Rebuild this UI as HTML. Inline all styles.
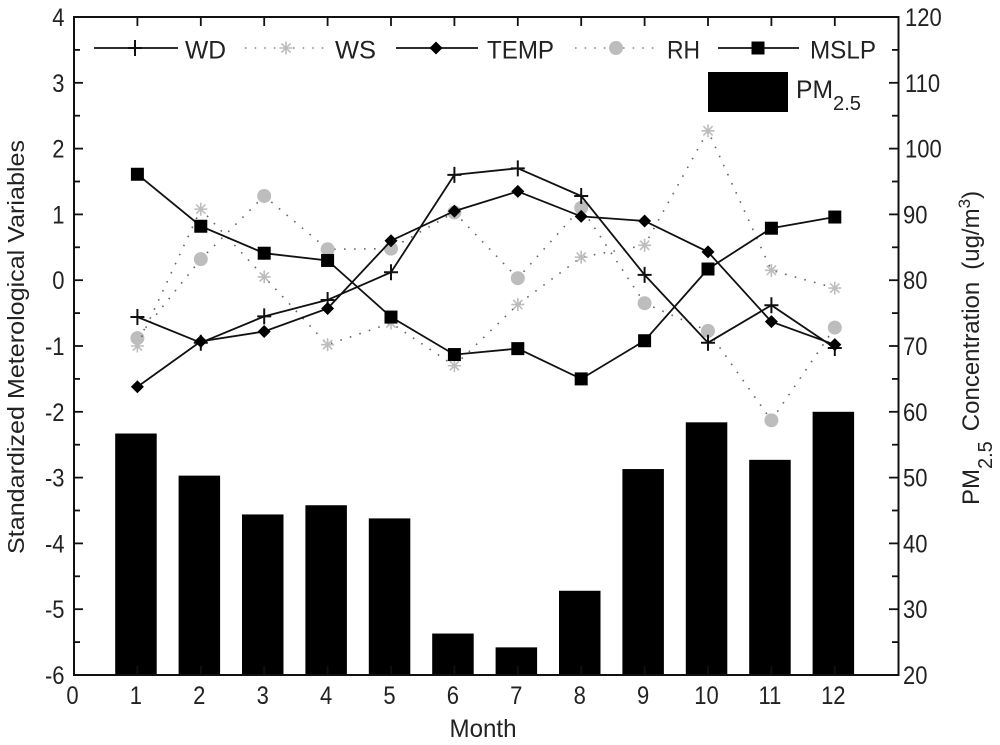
<!DOCTYPE html>
<html>
<head>
<meta charset="utf-8">
<style>
html,body{margin:0;padding:0;background:#fff;}
svg{display:block;font-family:"Liberation Sans",Arial,sans-serif;fill:#222;}
</style>
</head>
<body>
<svg id="chart" width="1000" height="745" viewBox="0 0 1000 745" xmlns="http://www.w3.org/2000/svg">
  <g id="bars"></g>
  <g id="series"></g>
  <rect x="74" y="17" width="824.5" height="658" fill="none" stroke="#111" stroke-width="2"></rect>
  <g id="ticks"></g>
  <g id="labels" font-size="25"></g>
  <text x="483" y="737" font-size="25" text-anchor="middle" textLength="67" lengthAdjust="spacingAndGlyphs">Month</text>
  <text transform="translate(24,347) rotate(-90)" font-size="23" text-anchor="middle" textLength="414" lengthAdjust="spacingAndGlyphs">Standardized Meterological Variables</text>
  <text transform="translate(979,505) rotate(-90)" font-size="24">PM<tspan font-size="20" dy="13">2.5</tspan><tspan dy="-13" dx="10">Concentration</tspan><tspan dx="12">(ug/m</tspan><tspan font-size="17" dy="-9">3</tspan><tspan dy="9">)</tspan></text>
  <g id="legend"></g>
</svg>
<script>
const months = [1,2,3,4,5,6,7,8,9,10,11,12];
const wd = [-0.56,-0.95,-0.55,-0.3,0.12,1.6,1.7,1.28,0.08,-0.95,-0.38,-1.03];
const ws = [-1.0,1.08,0.05,-0.98,-0.65,-1.3,-0.37,0.35,0.53,2.27,0.15,-0.12];
const temp = [-1.62,-0.93,-0.78,-0.43,0.6,1.05,1.35,0.97,0.9,0.43,-0.63,-0.98];
const rh = [-0.88,0.32,1.28,0.47,0.48,1.03,0.03,1.1,-0.35,-0.77,-2.13,-0.72];
const mslp = [1.61,0.82,0.41,0.3,-0.56,-1.13,-1.04,-1.5,-0.92,0.17,0.79,0.96];
const pm25 = [56.7,50.3,44.4,45.8,43.8,26.3,24.2,32.8,51.3,58.4,52.7,60];
const xTickLabels = [0,1,2,3,4,5,6,7,8,9,10,11,12];
const leftTickLabels = [4,3,2,1,0,-1,-2,-3,-4,-5,-6];
const rightTickLabels = [120,110,100,90,80,70,60,50,40,30,20];

const NS = 'http://www.w3.org/2000/svg';
const xScale = v => 74 + v * 63.4;
const yLeft = v => 17 + (4 - v) * 65.8;
const yRight = v => 17 + (120 - v) * 6.58;

function make(tag, attrs, parent) {
  const el = document.createElementNS(NS, tag);
  for (const k in attrs) el.setAttribute(k, attrs[k]);
  parent.appendChild(el);
  return el;
}

function drawMarker(kind, x, y, parent) {
  const dark = '#000', gray = '#bdbdbd';
  let el;
  if (kind === 'plus') {
    el = make('path', {d:`M${x-7} ${y}H${x+7}M${x} ${y-8}V${y+8}`, stroke:'#111', 'stroke-width':2, fill:'none'}, parent);
  } else if (kind === 'star') {
    el = make('path', {d:`M${x-6.5} ${y}H${x+6.5}M${x} ${y-6.5}V${y+6.5}M${x-4.6} ${y-4.6}L${x+4.6} ${y+4.6}M${x-4.6} ${y+4.6}L${x+4.6} ${y-4.6}`, stroke:gray, 'stroke-width':1.6, fill:'none'}, parent);
  } else if (kind === 'diamond') {
    el = make('path', {d:`M${x} ${y-6.5}L${x+6.5} ${y}L${x} ${y+6.5}L${x-6.5} ${y}Z`, fill:dark}, parent);
  } else if (kind === 'circle') {
    el = make('circle', {cx:x, cy:y, r:7, fill:gray}, parent);
  } else {
    el = make('rect', {x:x-6.5, y:y-6.5, width:13, height:13, fill:dark}, parent);
  }
  return el;
}

const seriesDefs = [
  {name:'RH', key:'rh', values:rh, marker:'circle', dotted:true},
  {name:'WS', key:'ws', values:ws, marker:'star', dotted:true},
  {name:'WD', key:'wd', values:wd, marker:'plus', dotted:false},
  {name:'TEMP', key:'temp', values:temp, marker:'diamond', dotted:false},
  {name:'MSLP', key:'mslp', values:mslp, marker:'square', dotted:false}
];

const barsG = document.getElementById('bars');
months.forEach((m, i) => {
  const top = yRight(pm25[i]);
  const bar = make('rect', {x:xScale(m) - 22.2, y:top, width:41.5, height:675 - top, fill:'#000'}, barsG);
  
  
});

const seriesG = document.getElementById('series');
seriesDefs.forEach(s => {
  const g = make('g', {}, seriesG);
  
  
  const pts = months.map((m, i) => xScale(m).toFixed(1) + ',' + yLeft(s.values[i]).toFixed(1)).join(' ');
  const attrs = s.dotted
    ? {points:pts, fill:'none', stroke:'#666', 'stroke-width':1.6, 'stroke-dasharray':'1.6 8.4'}
    : {points:pts, fill:'none', stroke:'#111', 'stroke-width':1.8};
  const line = make('polyline', attrs, g);
  
  
  months.forEach((m, i) => {
    const mk = drawMarker(s.marker, xScale(m), yLeft(s.values[i]), g);
    
    
  });
});

const ticksG = document.getElementById('ticks');
function tick(x1, y1, x2, y2, name) {
  const t = make('line', {x1, y1, x2, y2, stroke:'#111', 'stroke-width':1.8}, ticksG);
  
  
}
xTickLabels.forEach(v => {
  if (v > 0) tick(xScale(v), 17, xScale(v), 26, 'top-tick-' + v);
  if (v > 0) tick(xScale(v), 675, xScale(v), 666, 'bottom-tick-' + v);
});
leftTickLabels.forEach(v => {
  const y = yLeft(v);
  if (v !== 4 && v !== -6) tick(74, y, 83, y, 'left-tick-' + v);
  if (v !== -6) tick(74, y + 32.9, 80, y + 32.9, 'left-minor-tick-' + v);
});
rightTickLabels.forEach(v => {
  const y = yRight(v);
  if (v !== 120 && v !== 20) tick(898, y, 889, y, 'right-tick-' + v);
  if (v !== 20) tick(898, y + 32.9, 892, y + 32.9, 'right-minor-tick-' + v);
});

const labelsG = document.getElementById('labels');
function label(txt, x, y, anchor, name) {
  const t = make('text', {transform:`translate(${x},${y}) scale(0.88,1)`, 'text-anchor':anchor}, labelsG);
  t.textContent = txt;
  
  
}
xTickLabels.forEach(v => label(String(v), xScale(v) - 1.5, 704, 'middle', 'x-tick-label-' + v));
leftTickLabels.forEach(v => label(String(v), 64.5, yLeft(v) + 9, 'end', 'left-tick-label-' + v));
rightTickLabels.forEach(v => label(String(v), v >= 100 ? 905 : 903, yRight(v) + 9, 'start', 'right-tick-label-' + v));

const legendItems = [
  {label:'WD', key:'wd', marker:'plus', x1:94, x2:178, mx:135, tx:185, dotted:false, len:41},
  {label:'WS', key:'ws', marker:'star', x1:245, x2:324, mx:286, tx:335, dotted:true, len:41},
  {label:'TEMP', key:'temp', marker:'diamond', x1:396, x2:478, mx:436, tx:487, dotted:false, len:67},
  {label:'RH', key:'rh', marker:'circle', x1:575, x2:654, mx:616, tx:667, dotted:true, len:33},
  {label:'MSLP', key:'mslp', marker:'square', x1:718, x2:799, mx:758, tx:810, dotted:false, len:66}
];
const legendG = document.getElementById('legend');
legendItems.forEach(it => {
  const g = make('g', {}, legendG);
  
  
  const a = it.dotted
    ? {x1:it.x1, y1:48, x2:it.x2, y2:48, stroke:'#888', 'stroke-width':1.6, 'stroke-dasharray':'1.6 8'}
    : {x1:it.x1, y1:48, x2:it.x2, y2:48, stroke:'#111', 'stroke-width':1.8};
  make('line', a, g);
  drawMarker(it.marker, it.mx, 48, g);
  const t = make('text', {x:it.tx, y:58.5, 'font-size':25, textLength:it.len, lengthAdjust:'spacingAndGlyphs'}, g);
  t.textContent = it.label;
});
const pmG = make('g', {}, legendG);


make('rect', {x:708, y:72, width:80, height:40, fill:'#000'}, pmG);
const pmT = make('text', {x:796, y:98, 'font-size':25, textLength:37, lengthAdjust:'spacingAndGlyphs'}, pmG);
pmT.textContent = 'PM';
const pmS = make('text', {x:833, y:110, 'font-size':20, textLength:28, lengthAdjust:'spacingAndGlyphs'}, pmG);
pmS.textContent = '2.5';
</script>
</body>
</html>
